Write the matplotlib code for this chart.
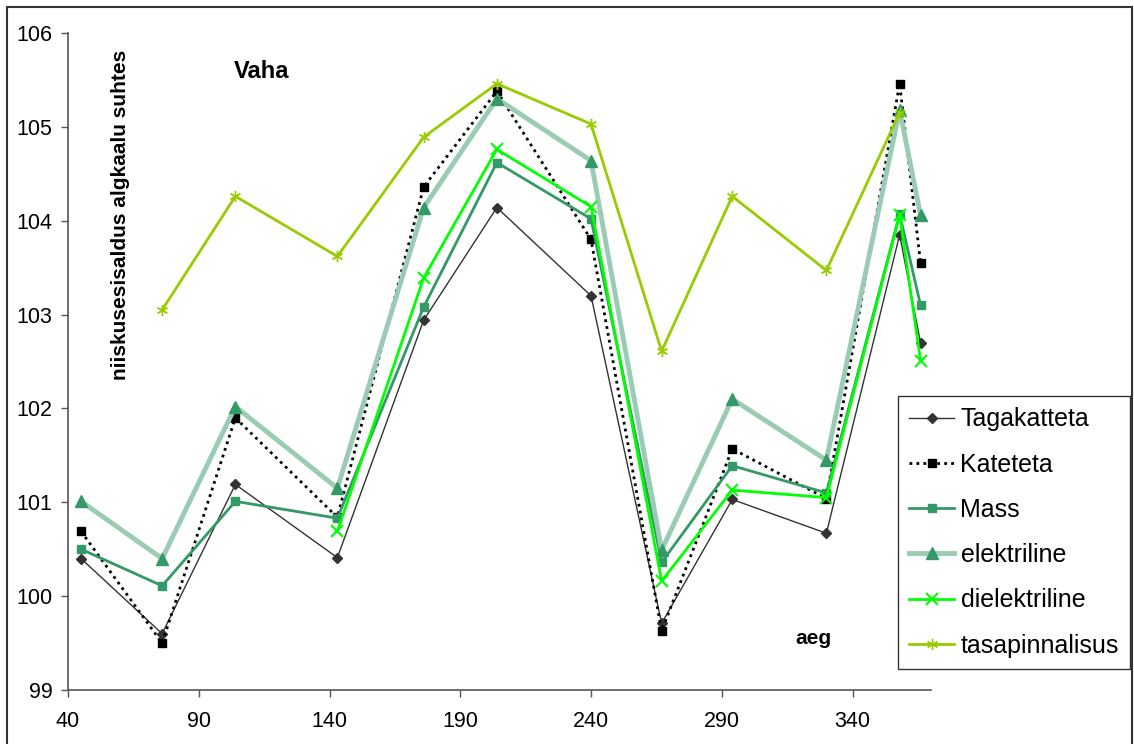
"""Vaha: niiskusesisalduse muutus ajas (Excel-stiilis joongraafik)."""

import numpy as np
import matplotlib
matplotlib.use("Agg")
import matplotlib.pyplot as plt
from matplotlib.patches import Rectangle

plt.rcParams["font.family"] = ["Liberation Sans", "DejaVu Sans"]

# --- andmed ---
aeg = [45, 76, 104, 143, 176, 204, 240, 267, 294, 330, 358, 366]
nan = np.nan

tagakatteta = [100.40, 99.60, 101.19, 100.41, 102.94, 104.14, 103.20, 99.71, 101.03, 100.67, 103.85, 102.70]
kateteta = [100.69, 99.50, 101.90, 100.84, 104.36, 105.38, 103.80, 99.63, 101.57, 101.04, 105.46, 103.55]
mass = [100.50, 100.11, 101.01, 100.83, 103.08, 104.62, 104.02, 100.36, 101.39, 101.10, 104.07, 103.10]
elektriline = [101.01, 100.40, 102.02, 101.15, 104.14, 105.30, 104.64, 100.49, 102.10, 101.45, 105.18, 104.06]
dielektriline = [nan, nan, nan, 100.69, 103.39, 104.76, 104.15, 100.16, 101.13, 101.05, 104.06, 102.51]
tasapinnalisus = [nan, 103.05, 104.26, 103.62, 104.89, 105.46, 105.03, 102.61, 104.26, 103.47, 105.15, nan]

x_ticks = [40, 90, 140, 190, 240, 290, 340]
y_ticks = [99, 100, 101, 102, 103, 104, 105, 106]

fig = plt.figure(figsize=(11.34, 7.44), dpi=100)
ax = fig.add_axes([68 / 1134, 1 - 690 / 744, (931 - 68) / 1134, (690 - 33) / 744])

ax.plot(aeg, tagakatteta, color="#333333", lw=1.0, marker="D", ms=5,
        mfc="#333333", mec="#333333", label="Tagakatteta")
ax.plot(aeg, kateteta, color="black", lw=2.0, ls=(0, (1, 1.5)), marker="s", ms=6,
        mfc="black", mec="black", label="Kateteta")
ax.plot(aeg, mass, color="#339966", lw=2.0, marker="s", ms=6,
        mfc="#339966", mec="#339966", label="Mass")
ax.plot(aeg, elektriline, color="#99ccb3", lw=3.5, marker="^", ms=8,
        mfc="#339966", mec="#339966", label="elektriline")
ax.plot(aeg, dielektriline, color="#00ff00", lw=2.0, marker="x", ms=8, mew=1.5,
        label="dielektriline")
ax.plot(aeg, tasapinnalisus, color="#99cc00", lw=2.0, marker=(6, 2, 0), ms=8, mew=1.0,
        label="tasapinnalisus")

ax.set_xlim(40, 370)
ax.set_ylim(99, 106)
ax.set_xticks(x_ticks)
ax.set_yticks(y_ticks)
ax.tick_params(direction="out", length=5, width=1, color="#555555", labelsize=15.5)
ax.tick_params(axis="x", pad=10)
ax.tick_params(axis="y", pad=6)
for side in ("top", "right"):
    ax.spines[side].set_visible(False)
for side in ("left", "bottom"):
    ax.spines[side].set_color("#555555")
    ax.spines[side].set_linewidth(1.2)

ax.text(120 / 1134, 1 - 215 / 744, "niiskusesisaldus algkaalu suhtes", transform=fig.transFigure,
        rotation=90, ha="center", va="center", fontsize=15, fontweight="bold")
ax.text(262 / 1134, 1 - 72 / 744, "Vaha", transform=fig.transFigure,
        ha="center", va="center", fontsize=17, fontweight="bold")
ax.text(813 / 1134, 1 - 638 / 744, "aeg", transform=fig.transFigure,
        ha="center", va="center", fontsize=15, fontweight="bold")

leg = ax.legend(loc="upper left", bbox_to_anchor=(898 / 1134, 1 - 396 / 744),
                bbox_transform=fig.transFigure, fontsize=18, frameon=True, fancybox=False,
                edgecolor="black", handlelength=1.8, handletextpad=0.25,
                labelspacing=0.85, borderpad=0.45, borderaxespad=0)
leg.get_frame().set_linewidth(1.0)

# Exceli diagrammiala raam
fig.patches.append(Rectangle((7 / 1134, -0.02), (1132 - 7) / 1134, 1.02 - 7 / 744,
                             transform=fig.transFigure, fill=False,
                             edgecolor="#333333", lw=1.5))

fig.savefig("out.png", dpi=100)
